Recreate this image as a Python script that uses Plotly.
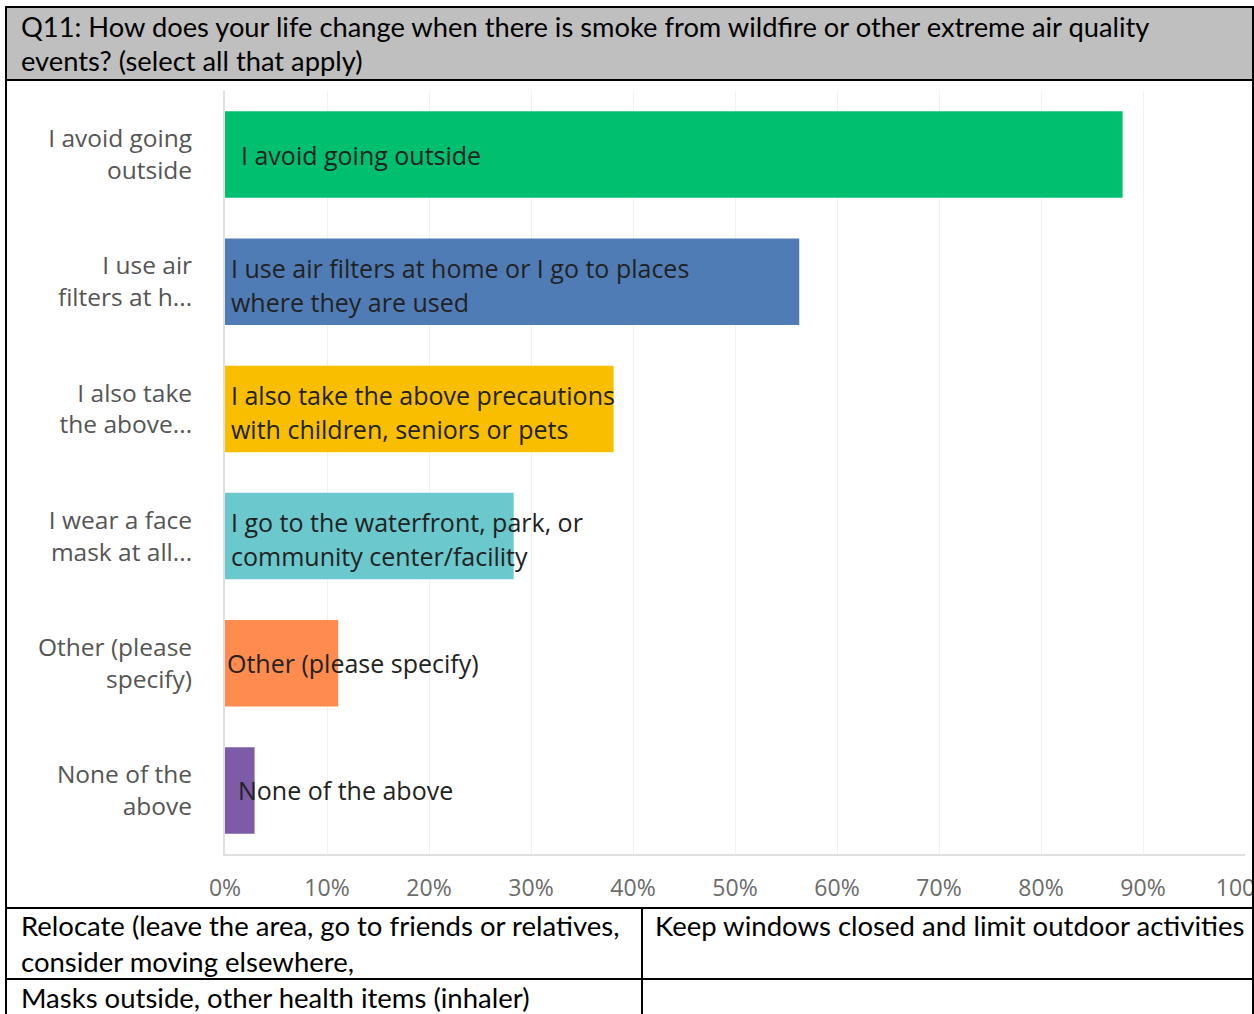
import plotly.graph_objects as go

W, H = 1254, 1014

categories = [
    "I avoid going<br>outside",
    "I use air<br>filters at h...",
    "I also take<br>the above...",
    "I wear a face<br>mask at all...",
    "Other (please<br>specify)",
    "None of the<br>above",
]
bar_labels = [
    "I avoid going outside",
    "I use air filters at home or I go to places<br>where they are used",
    "I also take the above precautions<br>with children, seniors or pets",
    "I go to the waterfront, park, or<br>community center/facility",
    "Other (please specify)",
    "None of the above",
]
values = [88.0, 56.3, 38.1, 28.3, 11.1, 2.9]
colors = ["#00bf6f", "#507cb6", "#f9be00", "#6bc8cd", "#ff8b4f", "#7d5ba6"]
tick_vals = [0, 10, 20, 30, 40, 50, 60, 70, 80, 90, 100]
tick_text = [f"{v}%" for v in tick_vals]

title_lines = [
    "Q11: How does your life change when there is smoke from wildfire or other extreme air quality",
    "events? (select all that apply)",
]
table_cells = [
    ["Relocate (leave the area, go to friends or relatives,", "consider moving elsewhere,"],
    ["Keep windows closed and limit outdoor activities"],
    ["Masks outside, other health items (inhaler)"],
    [],
]

# style: horizontal offset (px) of each in-bar label
label_shift = [14, 4, 4, 4, 0, 11]


def px(x):
    return x / W


def py(y):
    return 1 - y / H


CHART_FONT = "Open Sans"
DOC_FONT = "Lato"

fig = go.Figure()
fig.add_trace(go.Bar(
    y=list(range(len(categories))),
    x=values,
    orientation="h",
    marker=dict(color=colors, line=dict(width=0)),
    width=0.68,
    hoverinfo="skip",
))

annotations = []
for i, lab in enumerate(bar_labels):
    lines = lab.split("<br>")
    n = len(lines)
    for j, ln in enumerate(lines):
        annotations.append(dict(
            x=0, y=i, xref="x", yref="y", text=ln, showarrow=False,
            xanchor="left", yanchor="middle", xshift=label_shift[i],
            yshift=(n - 1) * 17 - j * 34 - (3 if n > 1 else 0),
            font=dict(family=CHART_FONT, size=25, color="#222222"),
        ))

for j, ln in enumerate(title_lines):
    annotations.append(dict(
        x=px(19), y=py(26 + j * 35), xref="paper", yref="paper", text=ln,
        showarrow=False, xanchor="left", yanchor="middle",
        font=dict(family=DOC_FONT, size=27.3, color="#000000"),
    ))

cell_pos = [(19, 925), (653, 925), (19, 997), (653, 997)]
for (cx, cy), lines in zip(cell_pos, table_cells):
    for j, ln in enumerate(lines):
        annotations.append(dict(
            x=px(cx), y=py(cy + j * 36), xref="paper", yref="paper", text=ln,
            showarrow=False, xanchor="left", yanchor="middle",
            font=dict(family=DOC_FONT, size=27.5, color="#000000"),
        ))

shapes = [
    dict(type="rect", xref="paper", yref="paper", x0=px(6), x1=px(1253), y0=py(7), y1=py(80),
         fillcolor="#bfbfbf", line=dict(color="#000000", width=2), layer="below"),
    dict(type="rect", xref="paper", yref="paper", x0=px(6), x1=px(1253), y0=py(80), y1=py(908),
         fillcolor="rgba(0,0,0,0)", line=dict(color="#000000", width=2)),
    dict(type="line", xref="paper", yref="paper", x0=px(6), x1=px(1253), y0=py(979), y1=py(979),
         line=dict(color="#000000", width=2)),
    dict(type="line", xref="paper", yref="paper", x0=px(642), x1=px(642), y0=py(908), y1=py(1016),
         line=dict(color="#000000", width=2)),
    dict(type="line", xref="paper", yref="paper", x0=px(6), x1=px(6), y0=py(908), y1=py(1016),
         line=dict(color="#000000", width=2)),
    dict(type="line", xref="paper", yref="paper", x0=px(1253), x1=px(1253), y0=py(908), y1=py(1016),
         line=dict(color="#000000", width=2)),
]

fig.update_layout(
    width=W, height=H, autosize=False,
    margin=dict(l=0, r=0, t=0, b=0, pad=0),
    paper_bgcolor="#ffffff", plot_bgcolor="#ffffff",
    showlegend=False,
    annotations=annotations, shapes=shapes,
    xaxis=dict(
        domain=[px(225), px(1245)], range=[0, 100],
        tickvals=tick_vals, ticktext=tick_text,
        showgrid=True, gridcolor="#f1f1f1", gridwidth=1,
        zeroline=False, showline=True, linecolor="#e0e0e0", linewidth=2,
        ticks="", ticklabelstandoff=12, automargin=False,
        ticklabeloverflow="allow",
        tickfont=dict(family=CHART_FONT, size=23, color="#6b6b6b"),
        fixedrange=True,
    ),
    yaxis=dict(
        domain=[py(854), py(91)], range=[len(categories) - 0.5, -0.5],
        tickvals=list(range(len(categories))), ticktext=categories,
        showgrid=False, zeroline=False, showline=True, linecolor="#e0e0e0", linewidth=2,
        ticks="", ticklabelstandoff=26, automargin=False,
        ticklabeloverflow="allow",
        tickfont=dict(family=CHART_FONT, size=24.5, color="#555555"),
        fixedrange=True,
    ),
)

fig.write_html(
    "out.html",
    config={"displayModeBar": False},
    post_script="document.body.style.margin='0px';document.body.style.overflow='hidden';",
)
